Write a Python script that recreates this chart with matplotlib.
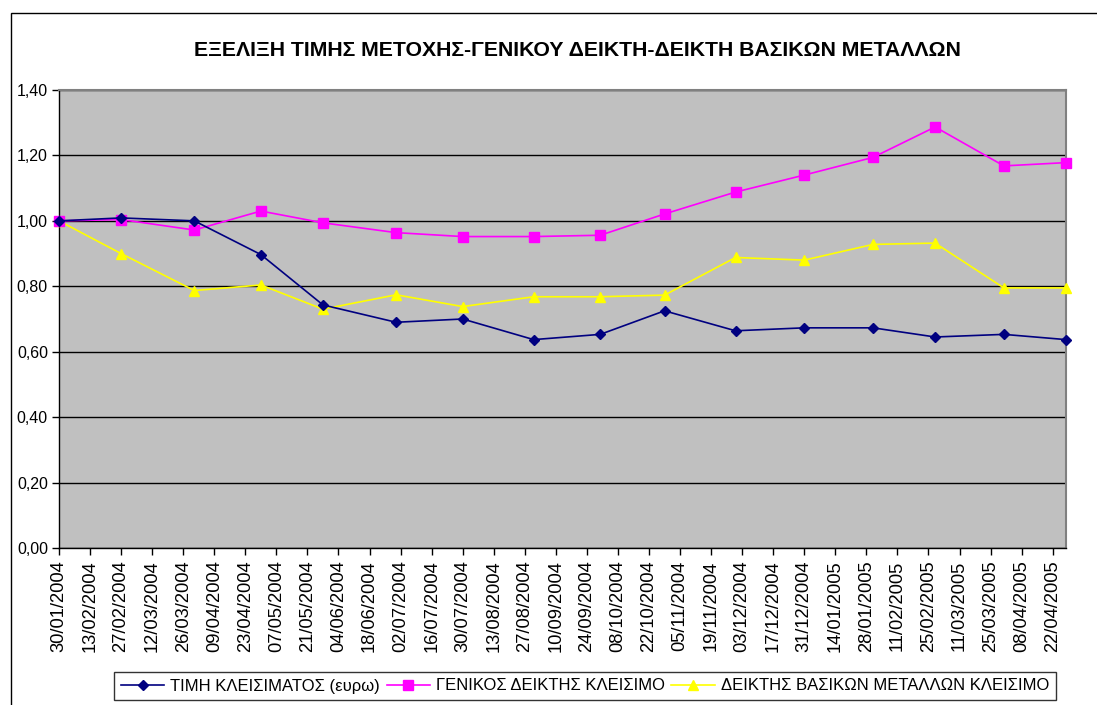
import matplotlib
matplotlib.use("Agg")
import matplotlib.pyplot as plt
from matplotlib.ticker import FuncFormatter, MultipleLocator
from matplotlib.patches import Rectangle
import datetime as dt

dates = ["30/01/2004", "27/02/2004", "31/03/2004", "30/04/2004", "28/05/2004",
         "30/06/2004", "30/07/2004", "31/08/2004", "30/09/2004", "29/10/2004",
         "30/11/2004", "31/12/2004", "31/01/2005", "28/02/2005", "31/03/2005",
         "28/04/2005"]
price = [1.000, 1.009, 1.000, 0.897, 0.743, 0.690, 0.700, 0.637, 0.653, 0.725,
         0.664, 0.673, 0.673, 0.645, 0.653, 0.637]
general = [1.000, 1.004, 0.972, 1.030, 0.994, 0.964, 0.952, 0.952, 0.956, 1.021,
           1.088, 1.140, 1.194, 1.287, 1.168, 1.178]
metals = [1.000, 0.900, 0.787, 0.804, 0.730, 0.774, 0.738, 0.768, 0.768, 0.773,
          0.888, 0.880, 0.928, 0.932, 0.795, 0.795]
labels = ["ΤΙΜΗ ΚΛΕΙΣΙΜΑΤΟΣ (ευρω)", "ΓΕΝΙΚΟΣ ΔΕΙΚΤΗΣ ΚΛΕΙΣΙΜΟ",
          "ΔΕΙΚΤΗΣ ΒΑΣΙΚΩΝ ΜΕΤΑΛΛΩΝ ΚΛΕΙΣΙΜΟ"]
title = "ΕΞΕΛΙΞΗ ΤΙΜΗΣ ΜΕΤΟΧΗΣ-ΓΕΝΙΚΟΥ ΔΕΙΚΤΗ-ΔΕΙΚΤΗ ΒΑΣΙΚΩΝ ΜΕΤΑΛΛΩΝ"

plt.rcParams['font.family'] = ['Liberation Sans', 'DejaVu Sans']

W, H = 1097, 705
fig = plt.figure(figsize=(W / 100, H / 100), dpi=100)
fig.patch.set_facecolor('white')

# outer chart border (left and top visible)
fig.patches.append(Rectangle((11 / W, -0.1), 1.2, (H - 13) / H + 0.1,
                             transform=fig.transFigure, fill=False,
                             edgecolor='black', linewidth=1.0))

ax = fig.add_axes([59 / W, (H - 548) / H, (1066 - 59) / W, (548 - 90) / H])
ax.set_facecolor('#C0C0C0')

x = [dt.datetime.strptime(d, "%d/%m/%Y") for d in dates]

ax.plot(x, price, color='#000080', marker='D', markersize=5.5, linewidth=1.2,
        label=labels[0], clip_on=False, zorder=5)
ax.plot(x, general, color='#FF00FF', marker='s', markersize=6.5, linewidth=1.2,
        label=labels[1], clip_on=False, zorder=4)
ax.plot(x, metals, color='#FFFF00', marker='^', markersize=7.5, linewidth=1.2,
        label=labels[2], clip_on=False, zorder=3)

ax.set_ylim(0, 1.4)
ax.yaxis.set_major_locator(MultipleLocator(0.2))
ax.yaxis.set_major_formatter(FuncFormatter(lambda v, p: f"{v:.2f}".replace('.', ',')))
ax.grid(axis='y', color='black', linewidth=1.0)
ax.set_axisbelow(True)

start = x[0]
end = x[-1]
ax.set_xlim(start, end)
ticks = []
t = start
while t <= end:
    ticks.append(t)
    t += dt.timedelta(days=14)
ax.set_xticks(ticks)
ax.set_xticklabels([t.strftime("%d/%m/%Y") for t in ticks], rotation=90)
ax.tick_params(axis='x', labelsize=13.2, direction='out', length=5, width=1,
               pad=4)
ax.tick_params(axis='y', labelsize=11.5, direction='out', length=5, width=1,
               pad=3)

for s in ['top', 'right']:
    ax.spines[s].set_color('#808080')
    ax.spines[s].set_linewidth(1.5)
for s in ['left', 'bottom']:
    ax.spines[s].set_color('black')
    ax.spines[s].set_linewidth(1.0)

fig.text(577 / W, 1 - 50 / H, title, ha='center', va='center',
         fontsize=15.3, fontweight='bold')

leg = fig.legend(loc='center', bbox_to_anchor=(585 / W, 1 - 686 / H), ncol=3,
                 fontsize=12.0, frameon=True, fancybox=False, shadow=False,
                 edgecolor='black', handlelength=2.6, handletextpad=0.35,
                 columnspacing=0.4, borderpad=0.4, borderaxespad=0)
leg.get_frame().set_linewidth(1.0)

fig.savefig("out.png", dpi=100, facecolor='white')
